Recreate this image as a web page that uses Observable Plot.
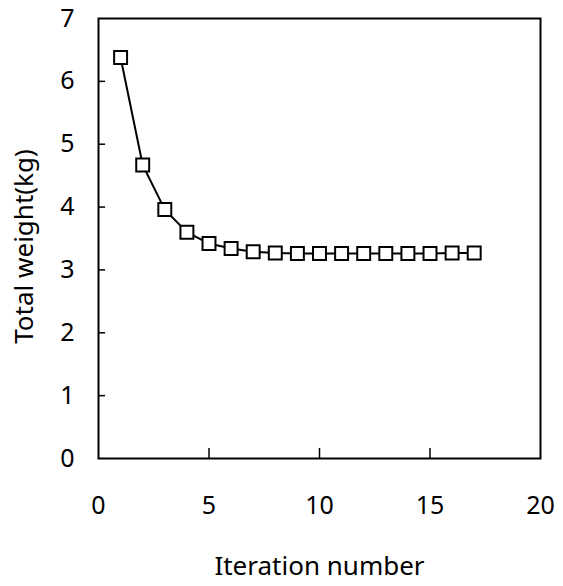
<!DOCTYPE html>
<html>
<head>
<meta charset="utf-8">
<script src="https://cdn.jsdelivr.net/npm/d3@7"></script>
<script src="https://cdn.jsdelivr.net/npm/@observablehq/plot@0.6"></script>
<style>
  html, body { margin: 0; padding: 0; background: #fff; }
</style>
</head>
<body>
<div id="chart"></div>
<script>
const iterations = [1, 2, 3, 4, 5, 6, 7, 8, 9, 10, 11, 12, 13, 14, 15, 16, 17];
const weights = [6.38, 4.67, 3.96, 3.60, 3.42, 3.34, 3.29, 3.27, 3.26, 3.26, 3.26, 3.26, 3.26, 3.26, 3.26, 3.27, 3.27];
const xTicks = [0, 5, 10, 15, 20];
const yTicks = [0, 1, 2, 3, 4, 5, 6, 7];
const xInnerTicks = [5, 10, 15];
const yInnerTicks = [1, 2, 3, 4, 5, 6];
const xTitle = "Iteration number";
const yTitle = "Total weight(kg)";

const data = iterations.map((x, i) => ({x, y: weights[i]}));
const font = "'Noto Sans', sans-serif";

const chart = Plot.plot({
  width: 563,
  height: 586,
  marginTop: 18,
  marginBottom: 128,
  marginLeft: 98,
  marginRight: 23,
  style: {fontFamily: font, background: "#fff", color: "#000"},
  x: {domain: [0, 20]},
  y: {domain: [0, 7]},
  marks: [
    Plot.frame({stroke: "#000", strokeWidth: 2}),
    Plot.ruleY(yInnerTicks, {y: d => d, x1: 0, x2: 0.32, stroke: "#000", strokeWidth: 1.5}),
    Plot.ruleX(xInnerTicks, {x: d => d, y1: 0, y2: 0.16, stroke: "#000", strokeWidth: 1.5}),
    Plot.axisY({ticks: yTicks, tickFormat: d3.format("d"), tickSize: 0, tickPadding: 24, fontSize: 25, label: null}),
    Plot.axisX({ticks: xTicks, tickFormat: d3.format("d"), tickSize: 0, tickPadding: 38, fontSize: 25, label: null}),
    Plot.text([xTitle], {text: d => d, frameAnchor: "bottom", textAnchor: "middle", lineAnchor: "bottom", dy: 116, fontSize: 26}),
    Plot.text([yTitle], {text: d => d, frameAnchor: "left", textAnchor: "middle", rotate: -90, dx: -74, dy: 8, fontSize: 26}),
    Plot.line(data, {x: "x", y: "y", stroke: "#000", strokeWidth: 2}),
    Plot.dot(data, {x: "x", y: "y", symbol: "square", r: 7.3, fill: "#fff", stroke: "#000", strokeWidth: 2})
  ]
});
document.getElementById("chart").appendChild(chart);
</script>
</body>
</html>
